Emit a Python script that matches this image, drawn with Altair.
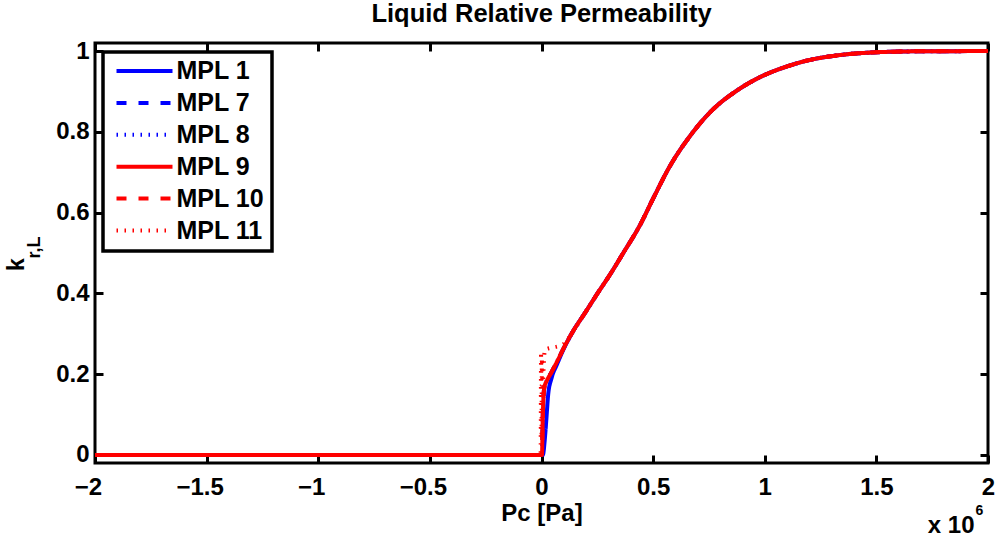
import altair as alt
import pandas as pd

FONT = "Liberation Sans"

# ---------------- data (Pc in units of 1e6 Pa) ----------------
series_names = ["MPL 1", "MPL 7", "MPL 8", "MPL 9", "MPL 10", "MPL 11"]
series_colors = ["#0000ff", "#0000ff", "#0000ff", "#ff0000", "#ff0000", "#ff0000"]
series_dashes = [[1, 0], [10, 12], [1.5, 6.5], [1, 0], [10, 12], [1.5, 6.5]]

# shared upper part of the curves
tail_pc = [0.14, 0.2, 0.245, 0.312, 0.364, 0.44, 0.503, 0.573, 0.663, 0.767,
           0.872, 0.977, 1.1, 1.186, 1.335, 1.5, 1.7, 2.0]
tail_kr = [0.305, 0.356, 0.395, 0.451, 0.498, 0.568, 0.638, 0.713, 0.788, 0.855,
           0.901, 0.935, 0.962, 0.976, 0.990, 0.997, 0.9995, 1.0]

# behaviour near Pc = 0
head_pc_std = [-2.0, 0.002, 0.006, 0.012, 0.025, 0.04, 0.075, 0.1]
head_kr_std = [0.0, 0.0, 0.10, 0.165, 0.185, 0.200, 0.237, 0.265]

head_pc_mpl1 = [-2.0, 0.006, 0.015, 0.022, 0.03, 0.045, 0.07, 0.1]
head_kr_mpl1 = [0.0, 0.0, 0.04, 0.09, 0.15, 0.19, 0.225, 0.263]

head_pc_mpl11 = [-2.0, -0.004, -0.002, 0.0, 0.002, 0.004, 0.015, 0.04, 0.08, 0.1]
head_kr_mpl11 = [0.0, 0.0, 0.255, 0.05, 0.24, 0.17, 0.26, 0.265, 0.27, 0.275]

heads = {
    "MPL 1": (head_pc_mpl1, head_kr_mpl1),
    "MPL 7": (head_pc_std, head_kr_std),
    "MPL 8": (head_pc_std, head_kr_std),
    "MPL 9": (head_pc_std, head_kr_std),
    "MPL 10": (head_pc_std, head_kr_std),
    "MPL 11": (head_pc_mpl11, head_kr_mpl11),
}

x_ticks = [-2, -1.5, -1, -0.5, 0, 0.5, 1, 1.5, 2]
y_ticks = [0, 0.2, 0.4, 0.6, 0.8, 1]

rows = []
for name in series_names:
    pcs, krs = heads[name]
    for i, (p, k) in enumerate(zip(pcs + tail_pc, krs + tail_kr)):
        rows.append({"series": name, "pc": p, "kr": k, "ord": i})
df = pd.DataFrame(rows)

# ---------------- chart ----------------
W, H = 893, 420
x_scale = alt.Scale(domain=[-2, 2], nice=False, zero=False)
y_scale = alt.Scale(domain=[-0.02, 1.02], nice=False, zero=False)

tick_common = dict(offset=-8, tickSize=8, tickWidth=3, tickColor="black",
                   domain=False, grid=False)

x_axis = alt.Axis(values=x_ticks, format="~g", labelFont=FONT, labelFontSize=24,
                  labelFontWeight="bold", labelColor="black", labelPadding=12,
                  labelFlush=False, labelOverlap=False,
                  labelOffset={"condition": {"test": "datum.value < 0", "value": -7}, "value": 0},
                  title="Pc [Pa]", titleFont=FONT, titleFontSize=24,
                  titleFontWeight="bold", titleColor="black", titleY=65.4,
                  titleBaseline="alphabetic", **tick_common)
y_axis = alt.Axis(values=y_ticks, format="~g", labelFont=FONT, labelFontSize=24,
                  labelFontWeight="bold", labelColor="black", labelPadding=6,
                  labelFlush=False, labelOverlap=False, title=None, **tick_common)
x_axis_top = alt.Axis(orient="top", values=x_ticks, labels=False, title=None, **tick_common)
y_axis_right = alt.Axis(orient="right", values=y_ticks, labels=False, title=None, **tick_common)

legend = alt.Legend(title=None, orient="none", legendX=8, legendY=9,
                    symbolType="stroke", symbolSize=3136, symbolStrokeWidth=4,
                    clipHeight=24, rowPadding=6.9, padding=7, symbolOffset=4.5,
                    labelOffset=2, labelFont=FONT, labelFontSize=25,
                    labelFontWeight="bold", labelColor="black",
                    strokeColor="black", fillColor="white")

base = alt.Chart(df)

lines = base.mark_line(strokeWidth=4, interpolate="monotone").encode(
    x=alt.X("pc:Q", scale=x_scale, axis=x_axis),
    y=alt.Y("kr:Q", scale=y_scale, axis=y_axis),
    color=alt.Color("series:N", scale=alt.Scale(domain=series_names, range=series_colors),
                    legend=legend, sort=series_names),
    strokeDash=alt.StrokeDash("series:N", scale=alt.Scale(domain=series_names, range=series_dashes),
                              legend=legend, sort=series_names),
    order="ord:Q",
)

frame_axes = base.mark_point(opacity=0, size=1).encode(
    x=alt.X("pc:Q", scale=x_scale, axis=x_axis_top),
    y=alt.Y("kr:Q", scale=y_scale, axis=y_axis_right),
)

def label(text, x, y, size, angle=0, align="center", baseline="alphabetic"):
    return alt.Chart(pd.DataFrame({"t": [text]})).mark_text(
        font=FONT, fontSize=size, fontWeight="bold", color="black",
        angle=angle, align=align, baseline=baseline,
    ).encode(text="t:N", x=alt.value(x), y=alt.value(y))

title_txt = label("Liquid Relative Permeability", W / 2, -20.6, 25.5)
k_main = label("k", -71.5, 221.5, 23, angle=270)
k_sub = label("r,L", -55, 204.5, 18, angle=270)
x_mult = label("x 10", 879.5, 489.7, 24, align="right")
x_exp = label("6", 880.5, 472, 14, align="left")

chart = alt.layer(lines, frame_axes, title_txt, k_main, k_sub, x_mult, x_exp).resolve_axis(
    x="independent", y="independent"
).properties(
    width=W, height=H,
    autosize=alt.AutoSizeParams(type="none"),
    padding={"left": 95, "top": 43, "right": 8, "bottom": 78},
).configure_view(stroke="black", strokeWidth=3).configure_legend(strokeWidth=3.5)

chart.save("out.html", embed_options={"renderer": "svg", "actions": False})
